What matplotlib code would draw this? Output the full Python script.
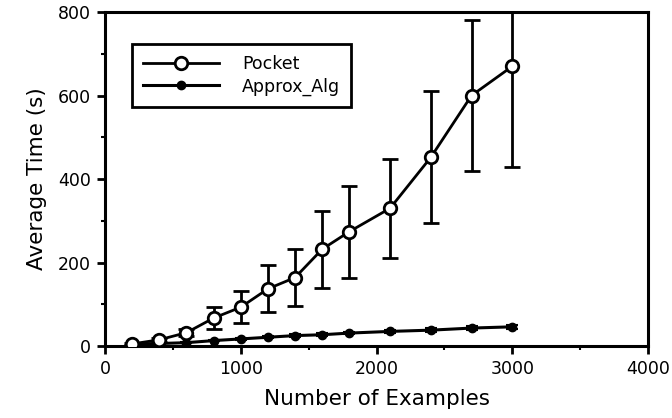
import matplotlib
matplotlib.use("Agg")
import matplotlib.pyplot as plt
from matplotlib.ticker import MultipleLocator

# Data
examples = [200, 400, 600, 800, 1000, 1200, 1400, 1600, 1800, 2100, 2400, 2700, 3000]
pocket_mean = [5, 15, 32, 67, 93, 137, 164, 232, 274, 330, 452, 600, 670]
pocket_err = [2, 5, 8, 26, 38, 56, 69, 92, 110, 118, 158, 180, 240]
approx_mean = [5, 6, 8, 13, 17, 21, 25, 27, 31, 35, 38, 43, 46]
approx_err = [1, 1, 1, 2, 2, 2, 3, 3, 3, 4, 4, 4, 5]

series_labels = ["Pocket", "Approx_Alg"]
x_label = "Number of Examples"
y_label = "Average Time (s)"

plt.rcParams['font.family'] = ['DejaVu Sans']
fig = plt.figure(figsize=(6.72, 4.18), dpi=100)
ax = fig.add_axes([0.1563, 0.1722, 0.808, 0.799])

ax.errorbar(examples, approx_mean, yerr=approx_err, color='black', lw=2.2,
            marker='o', markersize=6, markerfacecolor='black', markeredgecolor='black',
            capsize=4, elinewidth=1.5, capthick=1.5, label=series_labels[1], zorder=3)
ax.errorbar(examples, pocket_mean, yerr=pocket_err, color='black', lw=2.0,
            marker='o', markersize=9, markerfacecolor='white', markeredgecolor='black',
            markeredgewidth=2, capsize=6, elinewidth=2, capthick=2,
            label=series_labels[0], zorder=4)

ax.set_xlim(0, 4000)
ax.set_ylim(0, 800)
ax.xaxis.set_major_locator(MultipleLocator(1000))
ax.xaxis.set_minor_locator(MultipleLocator(500))
ax.yaxis.set_major_locator(MultipleLocator(200))
ax.yaxis.set_minor_locator(MultipleLocator(100))
ax.tick_params(which='major', direction='out', length=6, width=2, labelsize=12.5, pad=4)
ax.tick_params(which='minor', direction='out', length=3, width=1.5)
for s in ax.spines.values():
    s.set_linewidth(2.2)

ax.set_xlabel(x_label, fontsize=15.5, labelpad=8)
ax.set_ylabel(y_label, fontsize=15.5, labelpad=8)

handles, labels = ax.get_legend_handles_labels()
handles = [h[0] for h in handles][::-1]
labels = labels[::-1]
leg = ax.legend(handles, labels, loc='upper left', bbox_to_anchor=(0.049, 0.905),
                fontsize=12.5, frameon=True, fancybox=False, framealpha=1,
                handlelength=4.4, borderpad=0.65, labelspacing=0.25,
                handletextpad=1.3, borderaxespad=0)
leg.get_frame().set_edgecolor('black')
leg.get_frame().set_linewidth(2)

fig.savefig("out.png", dpi=100)
